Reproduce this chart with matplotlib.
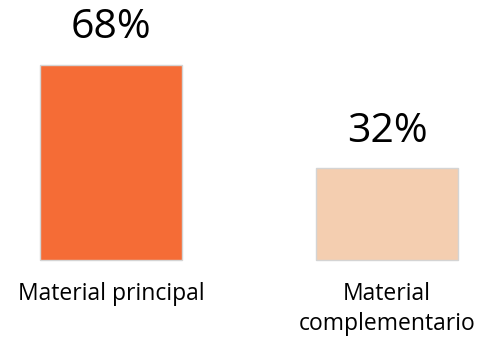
import matplotlib
matplotlib.use("Agg")
import matplotlib.pyplot as plt

categories = ["Material principal", "Material\ncomplementario"]
values = [68, 32]
value_labels = ["68%", "32%"]
colors = ["#F56C36", "#F4CEB0"]

fig = plt.figure(figsize=(4.8, 3.43), dpi=100)
ax = fig.add_axes([0, 0, 1, 1])
ax.set_axis_off()

px_per_unit = 2.87
baseline_px = 83.0  # from figure bottom
ax.set_ylim(-baseline_px / px_per_unit, (343 - baseline_px) / px_per_unit)
spacing = 276.0
left_center = 111.0
ax.set_xlim(-left_center / spacing, (480 - left_center) / spacing)

positions = list(range(len(categories)))
ax.bar(positions, values, width=142 / spacing, color=colors,
       edgecolor="#d4d4d4", linewidth=1.0)

font = ["Open Sans", "DejaVu Sans"]
for x, v, lab in zip(positions, values, value_labels):
    ax.annotate(lab, xy=(x, v), xytext=(0, 19.0), textcoords="offset points",
                ha="center", va="baseline", fontsize=29.5, family=font,
                color="#000000")

for x, cat in zip(positions, categories):
    nlines = cat.count("\n") + 1
    off = -28.8 - (nlines - 1) * 30 * 0.72
    ax.annotate(cat, xy=(x, 0), xytext=(0, off), textcoords="offset points",
                ha="center", va="baseline", fontsize=16.5, family=font,
                color="#000000", linespacing=1.35)

fig.savefig("out.png", dpi=100)
